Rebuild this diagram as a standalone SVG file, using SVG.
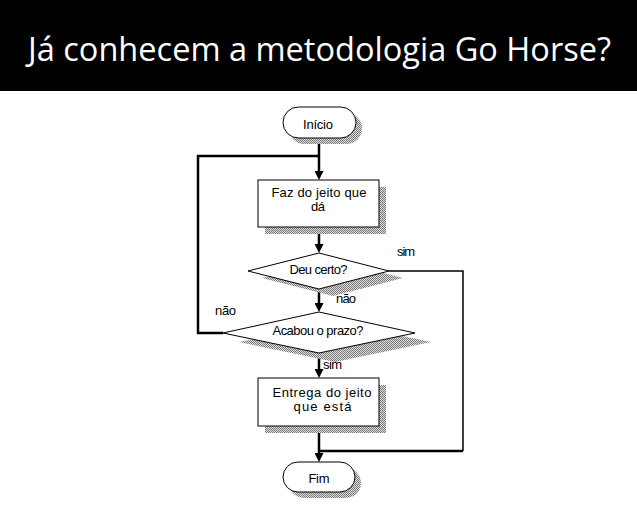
<svg xmlns="http://www.w3.org/2000/svg" width="637" height="519" viewBox="0 0 637 519">
  <style>
    .title { font-family: "Open Sans", "Liberation Sans", sans-serif; font-size: 33px; fill: #fff; }
    .lbl { font-family: "Liberation Sans", Arial, sans-serif; font-size: 13px; fill: #000; }
    .mid { text-anchor: middle; }
    .shape { fill: #fff; stroke: #000; stroke-width: 1; }
    .shadow { fill: url(#dither); stroke: none; }
    .flow { fill: none; stroke: #000; stroke-width: 2.5; }
    .thin { fill: none; stroke: #000; stroke-width: 1.5; }
  </style>
  <defs>
    <!-- dithered grey used for drop shadows -->
    <pattern id="dither" width="2" height="2" patternUnits="userSpaceOnUse">
      <rect width="2" height="2" fill="#e0e0e0"/>
      <rect width="1" height="1" fill="#777"/>
      <rect x="1" y="1" width="1" height="1" fill="#777"/>
    </pattern>
    <marker id="arrow" markerUnits="userSpaceOnUse" markerWidth="9" markerHeight="9" viewBox="0 0 9 9" refX="2" refY="4.5" orient="auto">
      <path d="M0,0 L9,4.5 L0,9 z" fill="#000"/>
    </marker>
  </defs>

  <!-- header band -->
  <rect x="0" y="0" width="637" height="91" fill="#000"/>
  <text class="title" x="28" y="61" textLength="583" lengthAdjust="spacingAndGlyphs">Já conhecem a metodologia Go Horse?</text>

  <!-- connectors -->
  <g id="connectors">
    <line class="flow" x1="319" y1="138" x2="319" y2="173" marker-end="url(#arrow)"/>
    <polyline class="flow" points="223,333 198,333 198,156 319,156"/>
    <line class="flow" x1="319" y1="227" x2="319" y2="246" marker-end="url(#arrow)"/>
    <line class="flow" x1="319" y1="289" x2="319" y2="305" marker-end="url(#arrow)"/>
    <polyline class="thin" points="389,271 463,271 463,451"/>
    <line class="flow" x1="463" y1="451" x2="319" y2="451"/>
    <line class="flow" x1="319" y1="353" x2="319" y2="371" marker-end="url(#arrow)"/>
    <line class="flow" x1="319" y1="426" x2="319" y2="455" marker-end="url(#arrow)"/>
  </g>

  <!-- branch labels -->
  <g id="edge-labels">
    <text class="lbl" x="397" y="256" textLength="18">sim</text>
    <text class="lbl" x="336" y="303" textLength="20">não</text>
    <text class="lbl" x="215" y="315" textLength="21">não</text>
    <text class="lbl" x="323" y="369" textLength="19">sim</text>
  </g>

  <g id="inicio">
    <rect class="shadow" x="289" y="113" width="73" height="31" rx="15.5"/>
    <rect class="shape" x="283" y="107" width="73" height="31" rx="15.5"/>
    <text class="lbl mid" x="318" y="128.5" textLength="30">Início</text>
  </g>

  <g id="faz">
    <rect class="shadow" x="265" y="187" width="121" height="47"/>
    <rect class="shape" x="258" y="180" width="121" height="47"/>
    <text class="lbl mid" x="319" y="197" textLength="95">Faz do jeito que</text>
    <text class="lbl mid" x="318" y="210.5" textLength="14">dá</text>
  </g>

  <g id="deu-certo">
    <polygon class="shadow" points="262,278 333,260 403,278 333,296"/>
    <polygon class="shape" points="248,271 319,253 389,271 319,289"/>
    <text class="lbl mid" x="318.5" y="273.5" textLength="58">Deu certo?</text>
  </g>

  <g id="acabou">
    <polygon class="shadow" points="239,342 335,322 431,342 335,362"/>
    <polygon class="shape" points="223,333 319,312 415,333 319,353"/>
    <text class="lbl mid" x="318" y="335" textLength="91">Acabou o prazo?</text>
  </g>

  <g id="entrega">
    <rect class="shadow" x="265" y="385" width="121" height="48"/>
    <rect class="shape" x="258" y="378" width="121" height="48"/>
    <text class="lbl mid" x="322" y="396.5" textLength="99">Entrega do jeito</text>
    <text class="lbl mid" x="322.5" y="411" textLength="58">que está</text>
  </g>

  <g id="fim">
    <rect class="shadow" x="289" y="468" width="72" height="30" rx="15"/>
    <rect class="shape" x="283" y="462" width="72" height="30" rx="15"/>
    <text class="lbl mid" x="319" y="483" textLength="21">Fim</text>
  </g>
</svg>
